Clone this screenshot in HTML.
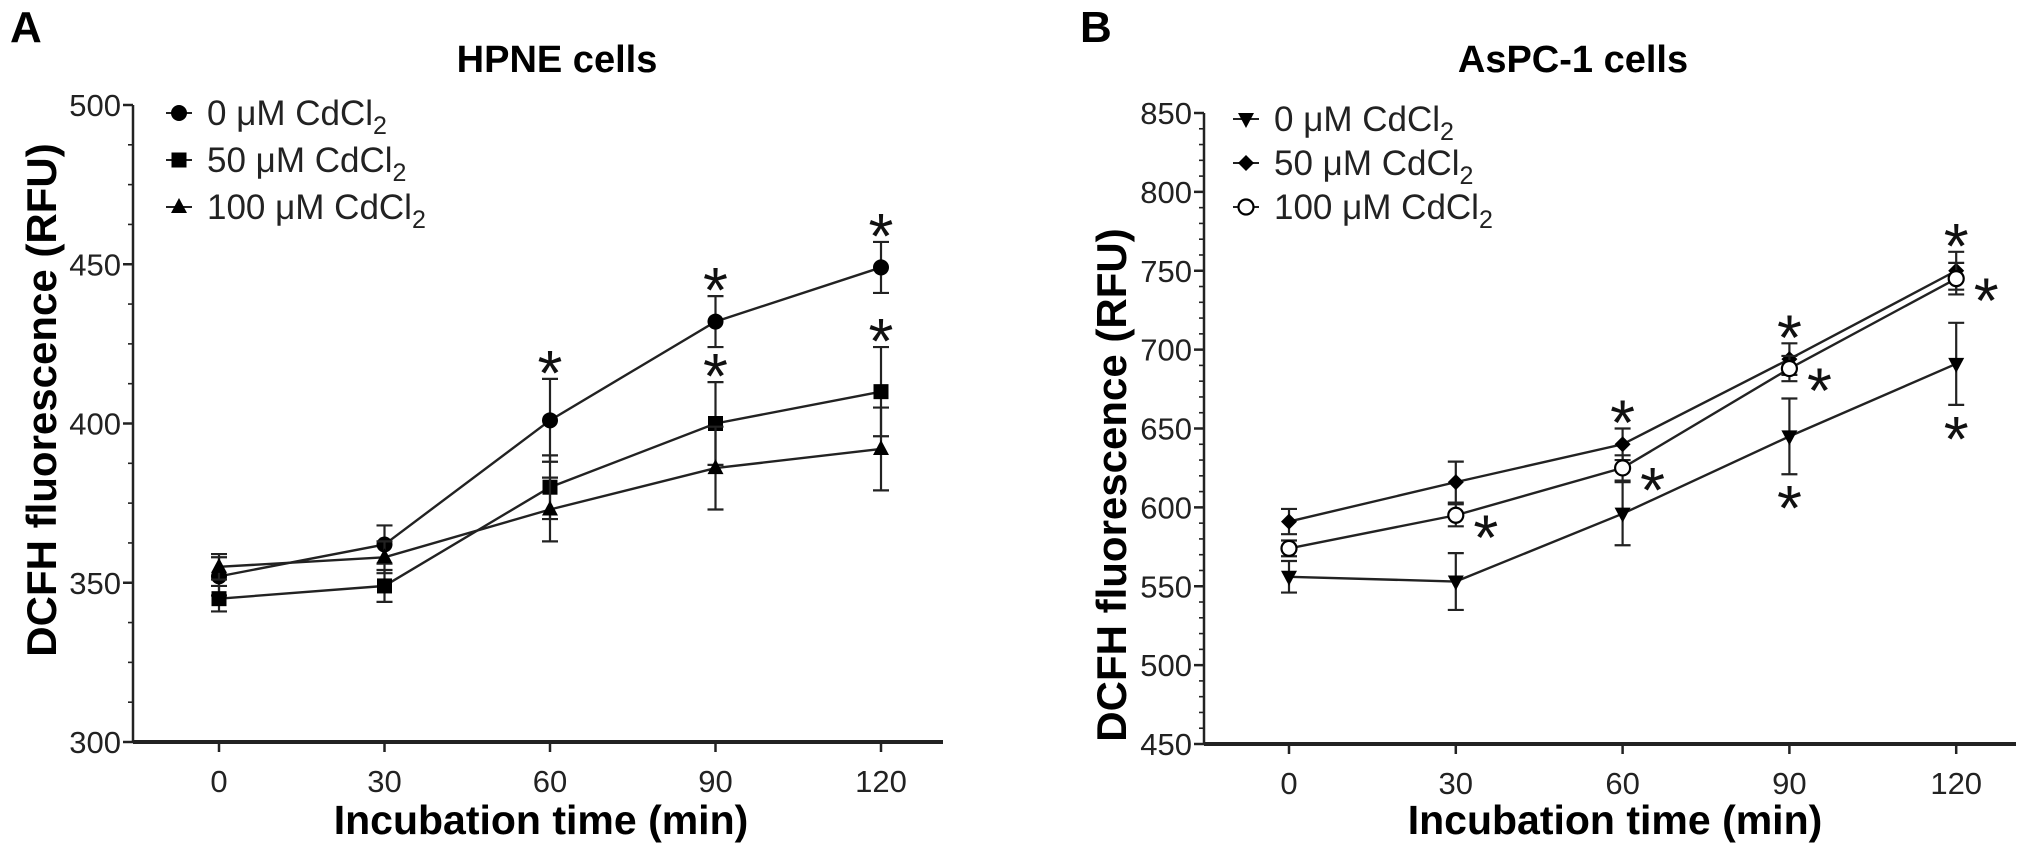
<!DOCTYPE html>
<html><head><meta charset="utf-8">
<style>
html,body{margin:0;padding:0;background:#fff;}
svg{display:block;font-family:"Liberation Sans",Arial,sans-serif;}
</style></head>
<body>
<svg id="fig" width="2031" height="856" viewBox="0 0 2031 856" xmlns="http://www.w3.org/2000/svg">
<text x="10" y="42" font-size="44" font-weight="bold">A</text>
<text x="1080" y="42" font-size="44" font-weight="bold">B</text>
<text x="557" y="72" font-size="38" font-weight="bold" text-anchor="middle">HPNE cells</text>
<text x="1573" y="72" font-size="38" font-weight="bold" text-anchor="middle">AsPC-1 cells</text>
<text x="541" y="834" font-size="41" font-weight="bold" text-anchor="middle">Incubation time (min)</text>
<text x="1615" y="834" font-size="41" font-weight="bold" text-anchor="middle">Incubation time (min)</text>
<text transform="translate(56,400) rotate(-90)" font-size="42" font-weight="bold" text-anchor="middle">DCFH fluorescence (RFU)</text>
<text transform="translate(1126,485) rotate(-90)" font-size="42" font-weight="bold" text-anchor="middle">DCFH fluorescence (RFU)</text>
</svg>
<script>
const times = [0, 30, 60, 90, 120];
const xTicks = ["0", "30", "60", "90", "120"];
// Panel A (HPNE)
const aLabels = ["0 \u03bcM CdCl", "50 \u03bcM CdCl", "100 \u03bcM CdCl"];
const aVals0 = [352, 362, 401, 432, 449];
const aErr0 = [6, 6, 13, 8, 8];
const aVals50 = [345, 349, 380, 400, 410];
const aErr50 = [4, 5, 10, 13, 14];
const aVals100 = [355, 358, 373, 386, 392];
const aErr100 = [4, 5, 10, 13, 13];
const aStar0 = [0, 0, 1, 1, 1];
const aStar50 = [0, 0, 0, 1, 1];
const aStar100 = [0, 0, 0, 0, 0];
const aYTicks = [300, 350, 400, 450, 500];
// Panel B (AsPC-1)
const bLabels = ["0 \u03bcM CdCl", "50 \u03bcM CdCl", "100 \u03bcM CdCl"];
const bVals0 = [556, 553, 596, 645, 691];
const bErr0 = [10, 18, 20, 24, 26];
const bVals50 = [591, 616, 640, 694, 750];
const bErr50 = [8, 13, 10, 10, 12];
const bVals100 = [574, 595, 625, 688, 745];
const bErr100 = [5, 7, 8, 8, 10];
const bStar0 = [0, 0, 0, 1, 1];
const bStar50 = [0, 0, 1, 1, 1];
const bStar100 = [0, 1, 1, 1, 1];
const bYTicks = [450, 500, 550, 600, 650, 700, 750, 800, 850];

const NS = "http://www.w3.org/2000/svg";
const svg = document.getElementById("fig");
function mk(tag, attrs, parent) {
  const e = document.createElementNS(NS, tag);
  for (const k in attrs) e.setAttribute(k, attrs[k]);
  (parent || svg).appendChild(e);
  return e;
}
function marker(g, shape, x, y) {
  let m;
  if (shape === "circle") m = mk("circle", {cx: x, cy: y, r: 8, fill: "#000"}, g);
  else if (shape === "square") m = mk("rect", {x: x - 7.5, y: y - 7.5, width: 15, height: 15, fill: "#000"}, g);
  else if (shape === "tri") m = mk("path", {d: `M${x},${y-9} L${x+8},${y+6} L${x-8},${y+6}Z`, fill: "#000"}, g);
  else if (shape === "dtri") m = mk("path", {d: `M${x},${y+9} L${x+8},${y-6} L${x-8},${y-6}Z`, fill: "#000"}, g);
  else if (shape === "diamond") m = mk("path", {d: `M${x},${y-8} L${x+8},${y} L${x},${y+8} L${x-8},${y}Z`, fill: "#000"}, g);
  else m = mk("circle", {cx: x, cy: y, r: 7.5, fill: "#fff", stroke: "#000", "stroke-width": 2.2}, g);
  return m;
}
function panel(cfg) {
  const {x0, x1, xT0, xStep, yPix0, yPix1, vMin, vMax, minor, ticks, series, legend, name} = cfg;
  const X = t => xT0 + t / 30 * xStep;
  const Y = v => yPix0 - (v - vMin) / (vMax - vMin) * (yPix0 - yPix1);
  const g = mk("g", {});
  
  
  const ax = mk("g", {stroke: "#222", "stroke-width": 2.5}, g);
  
  
  mk("line", {x1: x0, y1: yPix0, x2: x1, y2: yPix0, "stroke-width": 4}, ax);
  mk("line", {x1: x0, y1: yPix0, x2: x0, y2: yPix1}, ax);
  for (let v = vMin; v <= vMax + 0.01; v += minor) mk("line", {x1: x0 - 5, y1: Y(v), x2: x0, y2: Y(v), "stroke-width": 1.6}, ax);
  ticks.forEach(v => {
    mk("line", {x1: x0 - 10, y1: Y(v), x2: x0, y2: Y(v)}, ax);
    const t = mk("text", {x: x0 - 12, y: Y(v) + 11, "font-size": 31, "text-anchor": "end", fill: "#222", stroke: "none"}, g);
    t.textContent = v;
    
    
  });
  times.forEach((tm, i) => {
    mk("line", {x1: X(tm), y1: yPix0, x2: X(tm), y2: yPix0 + 10}, ax);
    const t = mk("text", {x: X(tm), y: yPix0 + 50, "font-size": 31, "text-anchor": "middle", fill: "#222"}, g);
    t.textContent = xTicks[i];
    
    
  });
  series.forEach(s => {
    const sg = mk("g", {}, g);
    
    
    const pts = times.map((tm, i) => X(tm) + "," + Y(s.vals[i])).join(" ");
    mk("polyline", {points: pts, fill: "none", stroke: "#222", "stroke-width": 2.4}, sg);
    times.forEach((tm, i) => {
      const x = X(tm), yt = Y(s.vals[i] + s.err[i]), yb = Y(s.vals[i] - s.err[i]);
      const eb = mk("path", {d: `M${x},${yt}V${yb}M${x-8},${yt}H${x+8}M${x-8},${yb}H${x+8}`, stroke: "#222", "stroke-width": 2.2, fill: "none"}, sg);
      
      
      const m = marker(sg, s.shape, x, Y(s.vals[i]));
      
      
      if (s.star[i]) {
        let sx = x, sy;
        if (s.starPos === "above") sy = yt + 16;
        else if (s.starPos === "below") sy = yb + 56;
        else { sx = x + 30; sy = Y(s.vals[i]) + 44; }
        const st = mk("text", {x: sx, y: sy, "font-size": 64, "text-anchor": "middle", fill: "#111"}, sg);
        st.textContent = "*";
        
        
      }
    });
  });
  series.forEach((s, i) => {
    const lg = mk("g", {}, g);
    
    
    const ly = legend.y0 + i * legend.dy;
    mk("line", {x1: legend.x - 13, y1: ly, x2: legend.x + 13, y2: ly, stroke: "#222", "stroke-width": 2}, lg);
    marker(lg, s.shape, legend.x, ly);
    const t = mk("text", {x: legend.x + 28, y: ly + 12, "font-size": 35, fill: "#222"}, lg);
    t.textContent = s.label;
    const sub = mk("tspan", {"font-size": 25, dy: 9}, t);
    sub.textContent = "2";
  });
}
panel({name: "panel-a-hpne", x0: 133, x1: 943, xT0: 219, xStep: 165.5, yPix0: 742, yPix1: 105, vMin: 300, vMax: 500, minor: 12.5, ticks: aYTicks,
  legend: {x: 179, y0: 113, dy: 47},
  series: [
    {name: "series-0uM", label: aLabels[0], vals: aVals0, err: aErr0, star: aStar0, shape: "circle", starPos: "above"},
    {name: "series-50uM", label: aLabels[1], vals: aVals50, err: aErr50, star: aStar50, shape: "square", starPos: "above"},
    {name: "series-100uM", label: aLabels[2], vals: aVals100, err: aErr100, star: aStar100, shape: "tri", starPos: "above"}
  ]});
panel({name: "panel-b-aspc1", x0: 1204, x1: 2016, xT0: 1289, xStep: 166.8, yPix0: 744, yPix1: 113, vMin: 450, vMax: 850, minor: 10, ticks: bYTicks,
  legend: {x: 1246, y0: 119, dy: 44},
  series: [
    {name: "series-0uM", label: bLabels[0], vals: bVals0, err: bErr0, star: bStar0, shape: "dtri", starPos: "below"},
    {name: "series-50uM", label: bLabels[1], vals: bVals50, err: bErr50, star: bStar50, shape: "diamond", starPos: "above"},
    {name: "series-100uM", label: bLabels[2], vals: bVals100, err: bErr100, star: bStar100, shape: "ocircle", starPos: "right"}
  ]});
</script>
</body></html>
